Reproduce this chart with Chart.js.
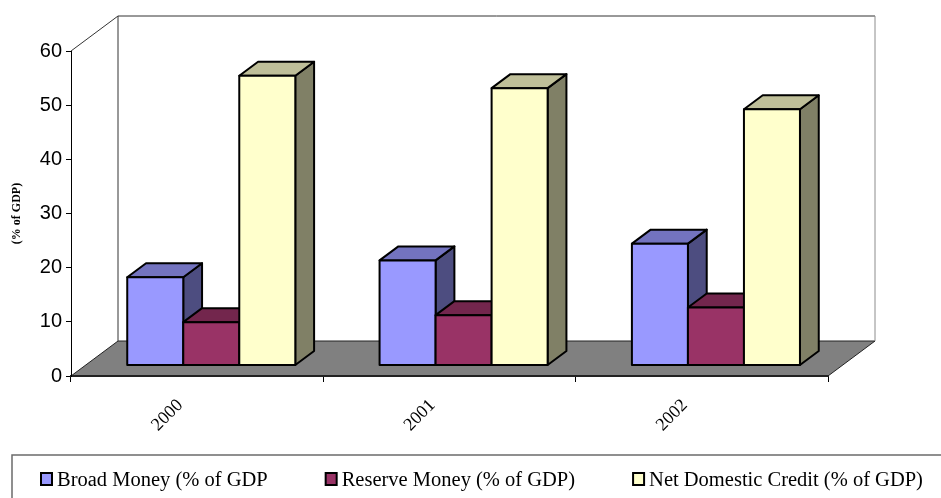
<!DOCTYPE html>
<html lang="en">
<head>
<meta charset="UTF-8">
<title>Monetary Aggregates (% of GDP)</title>
<script src="https://cdn.jsdelivr.net/npm/chart.js"></script>
<style>
  html, body { margin: 0; padding: 0; background: #fff; }
  canvas { display: block; }
</style>
</head>
<body>
<canvas id="moneyChart" width="941" height="498"></canvas>
<script>
const years = ['2000', '2001', '2002'];
const broadMoney = [16.3, 19.4, 22.5];
const reserveMoney = [8.0, 9.3, 10.7];
const netDomesticCredit = [53.5, 51.2, 47.3];
const seriesNames = ['Broad Money (% of GDP', 'Reserve Money (% of GDP)', 'Net Domestic Credit (% of GDP)'];

const frontColors = ['#9999ff', '#993366', '#ffffcc'];
const topColors = ['#7373bf', '#73264d', '#bfbf99'];
const sideColors = ['#4d4d80', '#4d1a33', '#808066'];

// depth of the floor and walls; each bar sits in the middle 40% of it
const DEPTH_X = 47, DEPTH_Y = -35;

function poly(ctx, pts, fill) {
    ctx.beginPath();
    ctx.moveTo(pts[0][0], pts[0][1]);
    for (let k = 1; k < pts.length; k++) ctx.lineTo(pts[k][0], pts[k][1]);
    ctx.closePath();
    if (fill) { ctx.fillStyle = fill; ctx.fill(); }
    ctx.stroke();
}

const box3d = {
    id: 'box3d',
    beforeDraw(chart) {
        const { ctx, chartArea: a } = chart;
        const L = a.left, R = a.right, T = a.top, B = a.bottom;
        ctx.save();
        // floor
        ctx.lineWidth = 1;
        ctx.strokeStyle = '#222';
        poly(ctx, [[L, B], [R, B], [R + DEPTH_X, B + DEPTH_Y], [L + DEPTH_X, B + DEPTH_Y]], '#808080');
        // back wall and side wall edges
        ctx.strokeStyle = '#333';
        ctx.beginPath();
        ctx.moveTo(L, T);
        ctx.lineTo(L + DEPTH_X, T + DEPTH_Y);
        ctx.lineTo(R + DEPTH_X, T + DEPTH_Y);
        ctx.moveTo(L + DEPTH_X, T + DEPTH_Y);
        ctx.lineTo(L + DEPTH_X, B + DEPTH_Y);
        ctx.stroke();
        ctx.strokeStyle = '#8c8c8c';
        ctx.beginPath();
        ctx.moveTo(R + DEPTH_X, T + DEPTH_Y);
        ctx.lineTo(R + DEPTH_X, B + DEPTH_Y);
        ctx.stroke();
        ctx.restore();
    },
    beforeDatasetsDraw(chart) {
        const ctx = chart.ctx;
        const offX = DEPTH_X * 0.3, offY = DEPTH_Y * 0.3;
        const dx = DEPTH_X * 0.4, dy = DEPTH_Y * 0.4;
        ctx.save();
        ctx.lineWidth = 2;
        ctx.strokeStyle = '#000';
        ctx.lineJoin = 'round';
        chart.data.datasets.forEach((ds, i) => {
            chart.getDatasetMeta(i).data.forEach(bar => {
                const { x, y, base, width } = bar.getProps(['x', 'y', 'base', 'width'], true);
                const l = x - width / 2 + offX, r = x + width / 2 + offX;
                const t = y + offY, b = base + offY;
                poly(ctx, [[r, t], [r + dx, t + dy], [r + dx, b + dy], [r, b]], sideColors[i]);
                poly(ctx, [[l, t], [r, t], [r + dx, t + dy], [l + dx, t + dy]], topColors[i]);
                poly(ctx, [[l, t], [r, t], [r, b], [l, b]], frontColors[i]);
            });
        });
        ctx.restore();
        return false;
    },
    afterDraw(chart) {
        // boxed legend along the bottom
        const ctx = chart.ctx;
        ctx.save();
        ctx.strokeStyle = '#6b6b6b';
        ctx.lineWidth = 1.5;
        ctx.strokeRect(12, 455, 1000, 100);
        ctx.font = '20.5px "Liberation Serif"';
        ctx.textBaseline = 'alphabetic';
        let x = 40;
        chart.data.datasets.forEach((ds, i) => {
            ctx.fillStyle = ds.backgroundColor;
            ctx.strokeStyle = '#000';
            ctx.lineWidth = 2;
            ctx.fillRect(x + 1, 473, 11, 12);
            ctx.strokeRect(x + 1, 473, 11, 12);
            ctx.fillStyle = '#000';
            ctx.fillText(ds.label, x + 17, 485.5);
            x += 17 + ctx.measureText(ds.label).width + 57;
        });
        ctx.restore();
    }
};

new Chart(document.getElementById('moneyChart'), {
    type: 'bar',
    data: {
        labels: years,
        datasets: [
            { label: seriesNames[0], data: broadMoney, backgroundColor: frontColors[0] },
            { label: seriesNames[1], data: reserveMoney, backgroundColor: frontColors[1] },
            { label: seriesNames[2], data: netDomesticCredit, backgroundColor: frontColors[2] }
        ]
    },
    options: {
        responsive: false,
        animation: false,
        devicePixelRatio: 1,
        layout: { padding: { top: 51, right: 113, left: 0, bottom: 0 } },
        datasets: { bar: { categoryPercentage: 0.666, barPercentage: 1 } },
        plugins: { legend: { display: false }, tooltip: { enabled: false } },
        scales: {
            x: {
                grid: { drawOnChartArea: false, offset: true, tickLength: 6, color: '#000' },
                border: { color: '#222', width: 2 },
                ticks: {
                    minRotation: 45, maxRotation: 45, padding: 13, labelOffset: -17, color: '#000',
                    font: { family: 'Liberation Serif', size: 18 }
                },
                afterFit(scale) { scale.height = 122; }
            },
            y: {
                min: 0, max: 60,
                grid: { drawOnChartArea: false, tickLength: 5, color: '#000' },
                border: { color: '#000', width: 1 },
                ticks: {
                    stepSize: 10, padding: 4, color: '#000',
                    font: { family: 'Liberation Sans', size: 20 }
                },
                title: {
                    display: true, text: '(% of GDP)', color: '#000',
                    font: { family: 'Liberation Serif', size: 12, weight: 'bold' },
                    padding: { top: 10, bottom: 0 }
                },
                afterFit(scale) { scale.width = 71; }
            }
        }
    },
    plugins: [box3d]
});
</script>
</body>
</html>
